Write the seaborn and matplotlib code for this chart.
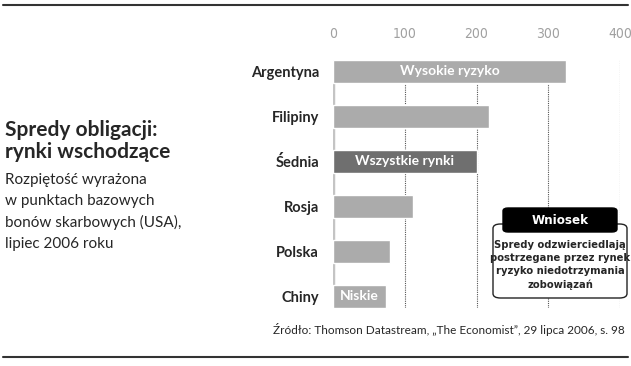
import matplotlib.pyplot as plt
import pandas as pd
import seaborn as sns
from matplotlib.patches import FancyBboxPatch

# data (basis points)
countries = ["Argentyna", "Filipiny", "Śednia", "Rosja", "Polska", "Chiny"]
spreads = [325, 217, 200, 112, 80, 74]
bar_notes = ["Wysokie ryzyko", "", "Wszystkie rynki", "", "", "Niskie"]
bar_colors = ["#ababab", "#ababab", "#6f6f6f", "#ababab", "#ababab", "#ababab"]
x_ticks = [0, 100, 200, 300, 400]

df = pd.DataFrame({"kraj": countries, "spread": spreads})

sns.set_style("white")
plt.rcParams["font.family"] = ["Lato", "DejaVu Sans"]
narrow = dict(family=["DejaVu Sans", "Lato"], stretch="condensed")

fig = plt.figure(figsize=(6.31, 3.66), dpi=100)
ax = fig.add_axes([333 / 631, 1 - 307.5 / 366, (620 - 333) / 631, 247.5 / 366])

sns.barplot(data=df, x="spread", y="kraj", hue="kraj", palette=bar_colors,
            legend=False, width=0.5, saturation=1, ax=ax, zorder=3)

ax.set_xlim(0, 400)
ax.set_ylim(5.25, -0.25)
ax.set_xticks(x_ticks)
ax.xaxis.tick_top()
ax.tick_params(axis="x", length=0, pad=14, labelcolor="#a0a0a0")
ax.tick_params(axis="y", length=0, pad=10, labelsize=10.5)
for lab in ax.get_xticklabels():
    lab.set_fontproperties(dict(narrow, size=10))
for lab in ax.get_yticklabels():
    lab.set_fontweight("bold")
ax.set_xlabel("")
ax.set_ylabel("")
for s in ax.spines.values():
    s.set_visible(False)
ax.axvline(0, color="#c4c4c4", lw=2.5, zorder=2)
for t in x_ticks[1:]:
    ax.axvline(t, color="#555555", lw=0.8, ls=(0, (1, 1)), zorder=1)

# labels inside the bars
for i, (v, note) in enumerate(zip(spreads, bar_notes)):
    if note:
        ax.text(v / 2, i, note, color="white", fontweight="bold", fontsize=10,
                ha="center", va="center", zorder=4)

# title block on the left
fig.text(5 / 631, 1 - 141 / 366, "Spredy obligacji:\nrynki wschodzące",
         fontsize=15, fontweight="bold", va="center", linespacing=1.15)
fig.text(5 / 631, 1 - 212 / 366,
         "Rozpiętość wyrażona\nw punktach bazowych\nbonów skarbowych (USA),\nlipiec 2006 roku",
         fontsize=11, va="center", linespacing=1.6)

# note box
outer = FancyBboxPatch((493 / 631, 1 - 298 / 366), 134 / 631, 74 / 366,
                       boxstyle="round,pad=0,rounding_size=0.012",
                       transform=fig.transFigure, fc="white", ec="#222222", lw=1)
fig.add_artist(outer)
head = FancyBboxPatch((503 / 631, 1 - 232 / 366), 114 / 631, 24 / 366,
                      boxstyle="round,pad=0,rounding_size=0.008",
                      transform=fig.transFigure, fc="black", ec="black", lw=1)
fig.add_artist(head)
fig.text(560 / 631, 1 - 220 / 366, "Wniosek", color="white", fontweight="bold",
         fontsize=9.5, ha="center", va="center", **narrow)
fig.text(560 / 631, 1 - 265 / 366,
         "Spredy odzwierciedlają\npostrzegane przez rynek\nryzyko niedotrzymania\nzobowiązań",
         fontsize=8, fontweight="bold", ha="center", va="center", linespacing=1.35,
         **narrow)

# source and rules
fig.text(273 / 631, 1 - 330 / 366,
         "Źródło: Thomson Datastream, „The Economist”, 29 lipca 2006, s. 98",
         fontsize=8.5, va="center")
fig.add_artist(plt.Line2D([3 / 631, 628 / 631], [1 - 5 / 366, 1 - 5 / 366],
                          transform=fig.transFigure, color="#333333", lw=1.5))
fig.add_artist(plt.Line2D([3 / 631, 628 / 631], [1 - 357 / 366, 1 - 357 / 366],
                          transform=fig.transFigure, color="#333333", lw=1.5))

fig.savefig("out.png", dpi=100)
